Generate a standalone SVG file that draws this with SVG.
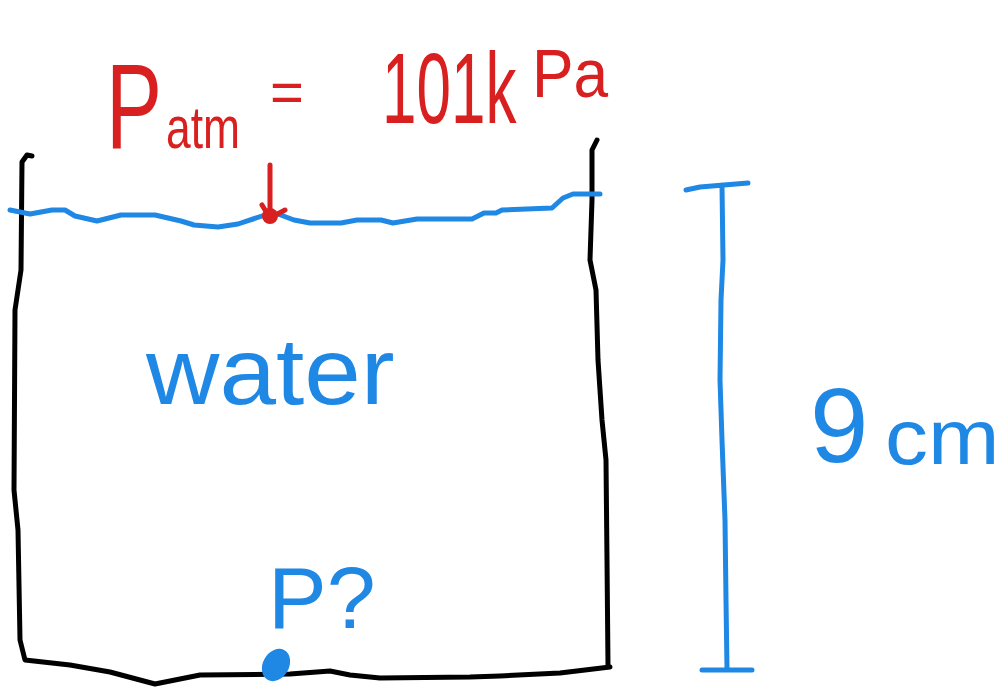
<svg xmlns="http://www.w3.org/2000/svg" width="1006" height="688" viewBox="0 0 1006 688">
<style>
.ink{fill:none;stroke-linecap:round;stroke-linejoin:round;stroke-width:5}
.k{stroke:#000}
.b{stroke:#1f88e5}
.r{stroke:#d92020}
.tr{fill:#d92020;font-family:"Liberation Sans",Arial,sans-serif}
.tb{fill:#1f88e5;font-family:"Liberation Sans",Arial,sans-serif}
</style>
<rect width="1006" height="688" fill="#fff"/>
<g id="container">
<path class="ink k" d="M32,156 L27,155 L22,162 L21,270 L15,310 L14,490 L18,530 L20,640 L25,660 L70,665 L110,672 L155,684 L200,675 L290,674 L330,671 L350,675 L380,678 L470,677 L500,676 L560,673 L610,667"/>
<path class="ink k" d="M597,140 L592,150 L592,200 L590,260 L596,290 L598,360 L602,420 L606,460 L607,560 L608,666"/>
</g>
<g id="water-surface">
<path class="ink b" d="M10,210 L30,214 L52,210 L65,210 L75,216 L97,221 L121,215 L155,215 L181,221 L194,225 L218,227 L238,224 L262,216 L278,214 L294,220 L310,223 L341,223 L357,220 L381,220 L393,223 L417,219 L472,219 L484,213 L496,213 L502,210 L552,208 L563,198 L573,194 L600,194"/>
</g>
<g id="atm-arrow">
<path class="ink r" d="M270,165 L270,216 M262,205 L270,218 L285,210"/>
<circle cx="270" cy="216" r="8" fill="#d92020"/>
</g>
<g id="labels">
<text class="tr" font-size="120" transform="translate(106,148) scale(0.7,1)">P</text>
<text class="tr" font-size="60" transform="translate(166,148) scale(0.74,1)">atm</text>
<text class="tr" x="270" y="112" font-size="58">=</text>
<text class="tr" font-size="100" transform="translate(382,123) scale(0.62,1)">101k</text>
<text class="tr" font-size="68" transform="translate(532,97) scale(0.915,1)">Pa</text>
<text class="tb" font-size="95" transform="translate(146,404) scale(1.07,1)">water</text>
<text class="tb" x="268" y="628" font-size="88">P?</text>
<text class="tb" x="810" y="462" font-size="105">9</text>
<text class="tb" font-size="78" transform="translate(885,464) scale(1.1,1)">cm</text>
</g>
<g id="bottom-point">
<ellipse cx="276" cy="665" rx="13" ry="17" transform="rotate(30 276 665)" fill="#1f88e5"/>
</g>
<g id="dimension">
<path class="ink b" d="M686,190 L700,187 L748,183 M722,185 L723,260 L721,300 L720,380 L722,440 L725,520 L726,600 L727,669 M702,670 L752,670"/>
</g>
</svg>
